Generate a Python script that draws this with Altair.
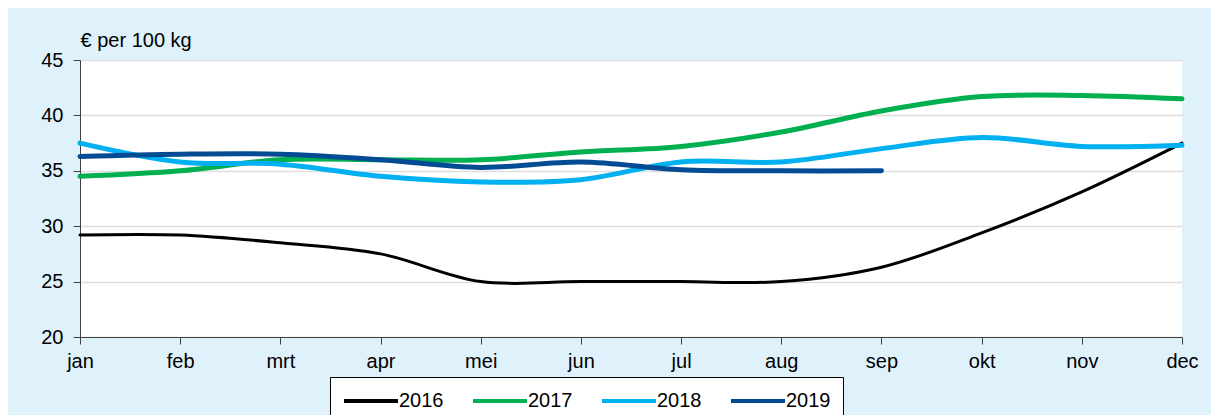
import altair as alt
import pandas as pd

months = ["jan", "feb", "mrt", "apr", "mei", "jun", "jul", "aug", "sep", "okt", "nov", "dec"]
years = ["2016", "2017", "2018", "2019"]
v2016 = [29.2, 29.2, 28.5, 27.5, 25.0, 25.0, 25.0, 25.0, 26.3, 29.4, 33.1, 37.5]
v2017 = [34.5, 35.0, 36.0, 36.0, 36.0, 36.7, 37.2, 38.5, 40.4, 41.7, 41.8, 41.5]
v2018 = [37.5, 35.8, 35.6, 34.5, 34.0, 34.2, 35.8, 35.8, 37.0, 38.0, 37.2, 37.3]
v2019 = [36.3, 36.5, 36.5, 36.0, 35.3, 35.8, 35.1, 35.0, 35.0]
colors = ["#000000", "#00B050", "#00B0F0", "#034C94"]

rows = []
for yr, vals in zip(years, [v2016, v2017, v2018, v2019]):
    for i, v in enumerate(vals):
        rows.append({"maand": months[i], "jaar": yr, "waarde": v})
df = pd.DataFrame(rows)

font = "Liberation Sans"

chart = alt.Chart(df).mark_line(interpolate="catmull-rom", strokeCap="round").encode(
    x=alt.X("maand:N", sort=months,
            scale=alt.Scale(type="point", padding=0, domain=months),
            axis=alt.Axis(title=None, labelAngle=0, labelFont=font, labelFontSize=20,
                          labelColor="#000000", tickSize=7, tickColor="#404040",
                          domainColor="#404040", labelPadding=7, grid=False)),
    y=alt.Y("waarde:Q", scale=alt.Scale(domain=[20, 45], nice=False, zero=False),
            axis=alt.Axis(title="€ per 100 kg", titleAngle=0, titleAlign="left",
                          titleBaseline="alphabetic", titleX=0, titleY=-14,
                          titleFont=font, titleFontSize=20, titleFontWeight="normal",
                          titleColor="#000000",
                          values=[20, 25, 30, 35, 40, 45], labelFont=font, labelFontSize=20,
                          labelColor="#000000", tickSize=7, tickColor="#404040",
                          domainColor="#404040", labelPadding=10,
                          gridColor="#DDDDDD", gridWidth=1.5)),
    color=alt.Color("jaar:N", scale=alt.Scale(domain=years, range=colors),
                    legend=alt.Legend(title=None, orient="none", legendX=250, legendY=317,
                                      direction="horizontal", columns=4,
                                      symbolType="M-1,0H4.4", symbolSize=400,
                                      symbolOffset=0,
                                      symbolStrokeWidth=4, labelFont=font,
                                      labelFontSize=20, labelColor="#000000",
                                      labelOffset=33, columnPadding=21, padding=12,
                                      fillColor="#FFFFFF", strokeColor="#000000")),
    strokeWidth=alt.condition(alt.datum.jaar == "2016", alt.value(3), alt.value(5)),
).properties(
    width=1102, height=277,
    background="#DFF2FC",
    padding={"left": 72, "top": 52, "right": 29, "bottom": 78},
    autosize=alt.AutoSizeParams(type="none"),
).configure_view(fill="#FFFFFF", stroke=None)

chart.save("out.html", embed_options={"renderer": "svg", "actions": False})
